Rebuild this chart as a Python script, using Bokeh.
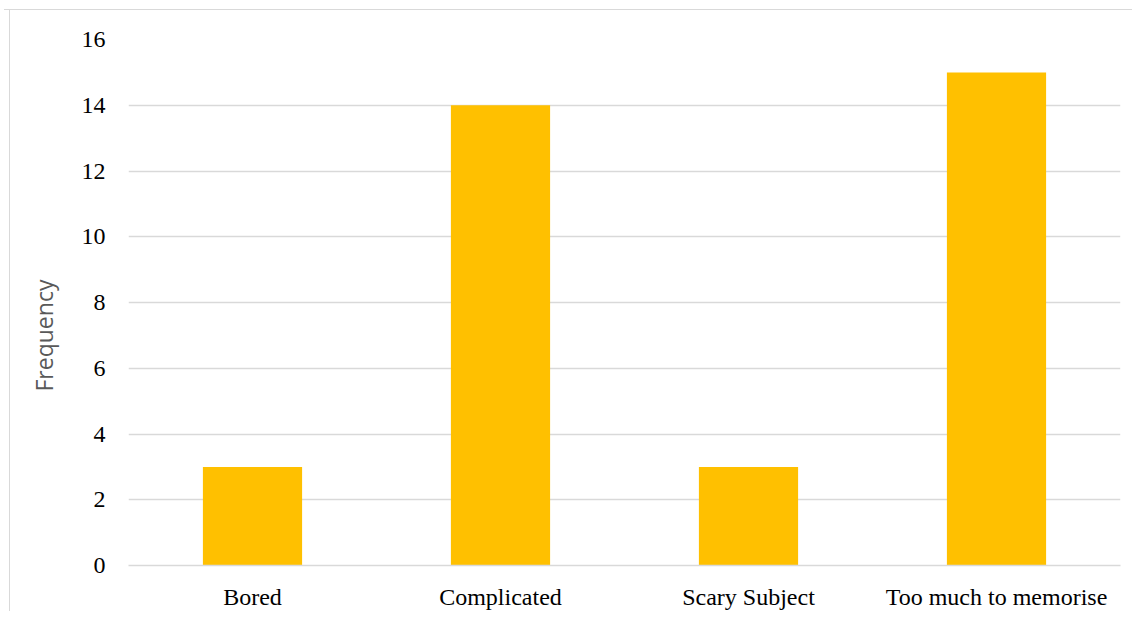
from bokeh.plotting import figure
from bokeh.models import FactorRange, Range1d, FixedTicker, ColumnDataSource, Title
from bokeh.embed import file_html
from bokeh.resources import INLINE

categories = ["Bored", "Complicated", "Scary Subject", "Too much to memorise"]
frequency = [3, 14, 3, 15]
y_ticks = [0, 2, 4, 6, 8, 10, 12, 14, 16]
y_label = "Frequency"

source = ColumnDataSource(data=dict(cat=categories, freq=frequency))

p = figure(
    x_range=FactorRange(factors=categories, range_padding=0),
    y_range=Range1d(0, 16),
    width=1128, height=602,
    output_backend="svg", toolbar_location=None,
    min_border_left=124, min_border_right=12,
    min_border_top=29, min_border_bottom=44,
)
p.margin = (9, 0, 0, 4)
p.border_fill_color = None
p.styles = {
    "border-top": "1px solid #d9d9d9",
    "box-shadow": "inset 5px 0 0 0 #ffffff, inset 6px 0 0 0 #d9d9d9",
}
p.outline_line_color = None

p.vbar(x="cat", top="freq", width=0.4, source=source, fill_color="#FFC000", line_color=None)

p.xgrid.grid_line_color = None
p.ygrid.grid_line_color = "#d9d9d9"
p.ygrid.grid_line_width = 1.3
p.yaxis.ticker = FixedTicker(ticks=y_ticks)

for ax in (p.xaxis, p.yaxis):
    ax.major_tick_line_color = None
    ax.minor_tick_line_color = None
    ax.major_label_text_font = "Liberation Serif"
    ax.major_label_text_font_size = "24px"
    ax.major_label_text_color = "#000000"

p.yaxis.axis_line_color = None
p.xaxis.axis_line_color = "#d9d9d9"
p.xaxis.axis_line_width = 1.3
p.yaxis.major_label_standoff = 17
p.xaxis.major_label_standoff = 12

# y-axis title, placed like the original (slightly below the vertical centre)
ytitle = Title(
    text=y_label, align="left", offset=174, vertical_align="middle",
    text_font="Open Sans", text_font_size="23px", text_font_style="normal",
    text_color="#595959", standoff=36,
)
p.add_layout(ytitle, "left")

open("out.html", "w").write(file_html(p, INLINE))
